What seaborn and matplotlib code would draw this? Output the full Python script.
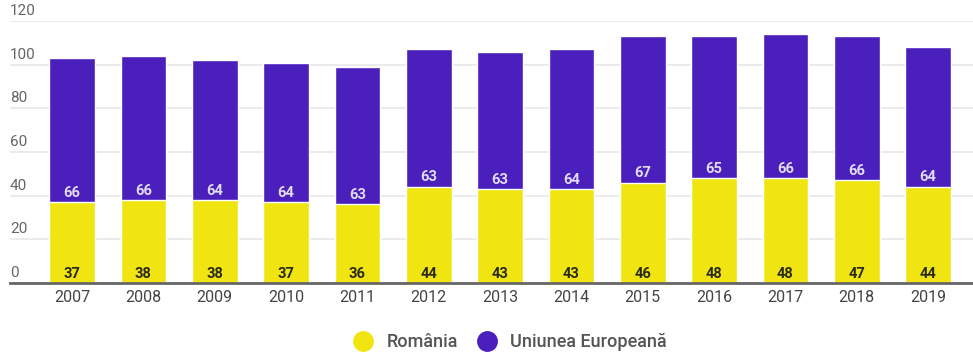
import matplotlib
matplotlib.use("Agg")
import matplotlib.pyplot as plt
from matplotlib.transforms import ScaledTranslation
from matplotlib.lines import Line2D
import seaborn as sns
import pandas as pd

years = ["2007", "2008", "2009", "2010", "2011", "2012", "2013",
         "2014", "2015", "2016", "2017", "2018", "2019"]
romania = [37, 38, 38, 37, 36, 44, 43, 43, 46, 48, 48, 47, 44]
eu = [66, 66, 64, 64, 63, 63, 63, 64, 67, 65, 66, 66, 64]
yticks = [0, 20, 40, 60, 80, 100, 120]
series_names = ["România", "Uniunea Europeană"]

YELLOW = "#F1E511"
PURPLE = "#4A1FBB"

sns.set_theme(style="white")
plt.rcParams["font.family"] = ["Roboto", "DejaVu Sans"]

df = pd.DataFrame({"year": years, "ro": romania, "eu": eu})
df["total"] = df["ro"] + df["eu"]

fig = plt.figure(figsize=(9.73, 3.57), dpi=100)
ax = fig.add_axes([0.0103, 0.207, 0.9897, 0.734])

sns.barplot(data=df, x="year", y="total", color=PURPLE, width=0.64,
            saturation=1, ax=ax, zorder=3)
sns.barplot(data=df, x="year", y="ro", color=YELLOW, width=0.64,
            saturation=1, ax=ax, zorder=4)

ax.set_xlim(-0.87, 12.63)
ax.set_ylim(0, 120)
ax.set_yticks(yticks)
ax.set_yticklabels([str(t) for t in yticks])
ax.set_xlabel("")
ax.set_ylabel("")
ax.grid(axis="y", color="#e8e8e8", linewidth=1.2, zorder=0)
ax.set_axisbelow(True)
for s in ["top", "right", "left"]:
    ax.spines[s].set_visible(False)
ax.spines["bottom"].set_color("#666666")
ax.spines["bottom"].set_linewidth(2)
ax.spines["bottom"].set_zorder(6)

ax.tick_params(axis="y", length=0, pad=0, labelsize=11, labelcolor="#666666")
ax.tick_params(axis="x", length=0, pad=5, labelsize=11.5, labelcolor="#444444")
for lab in ax.get_yticklabels():
    lab.set_horizontalalignment("left")
    lab.set_verticalalignment("bottom")
    lab.set_transform(lab.get_transform() + ScaledTranslation(0.0, 0.03, fig.dpi_scale_trans))

for i, (r, e) in enumerate(zip(romania, eu)):
    ax.text(i, 1.0, str(r), ha="center", va="bottom", fontsize=10.5,
            fontweight="bold", color="#2a2a1a", zorder=7)
    ax.text(i, r + 1.2, str(e), ha="center", va="bottom", fontsize=10.5,
            fontweight="bold", color="#e2dcf5", zorder=7)

handles = [Line2D([], [], marker="o", linestyle="", markersize=14,
                  markerfacecolor=c, markeredgecolor=c) for c in (YELLOW, PURPLE)]
fig.legend(handles, series_names, loc="center", bbox_to_anchor=(0.52, 0.042),
           ncol=2, frameon=False, fontsize=13,
           labelcolor="#555555", prop={"weight": "medium", "size": 13},
           handletextpad=0.3, columnspacing=0.6)

fig.savefig("out.png", dpi=100)
